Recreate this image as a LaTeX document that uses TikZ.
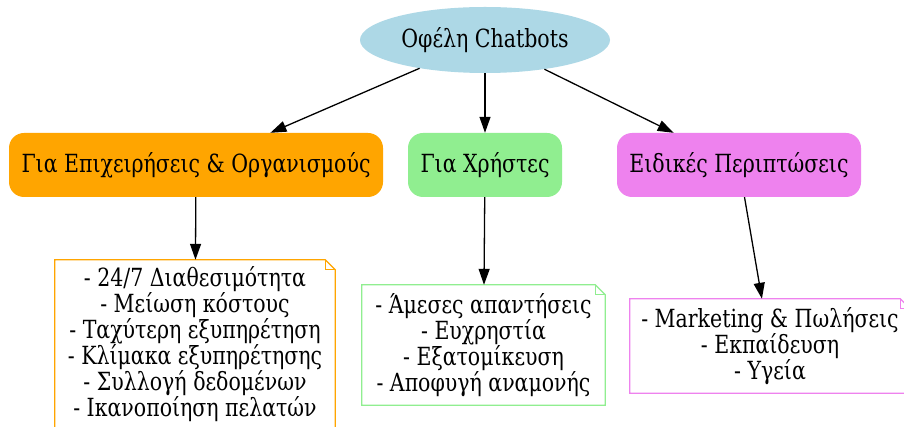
\documentclass[tikz,border=0pt]{standalone}
\usepackage{fontspec}
\setmainfont{DejaVu Serif}[FakeStretch=0.82]
\usetikzlibrary{shapes.geometric,arrows.meta}
\definecolor{cbblue}{RGB}{173,216,230}
\definecolor{cborange}{RGB}{255,165,0}
\definecolor{cbgreen}{RGB}{144,238,144}
\definecolor{cbviolet}{RGB}{238,130,238}
\tikzset{
  every node/.style={font=\fontsize{25}{26}\selectfont, text=black},
  topic/.style={rectangle, rounded corners=15pt, minimum height=64pt, inner sep=0pt},
  notebox/.style={rectangle, align=center, inner sep=0pt},
  link/.style={draw=black, line width=1.3pt, -{Triangle[length=16pt,width=11pt]}},
}
% folded-corner outline around a note node
\newcommand{\notepath}[2]{%
  \draw[#1, line width=1.2pt] (#2.north west) -- ([xshift=-10pt]#2.north east)
    -- ([yshift=-10pt]#2.north east) -- (#2.south east) -- (#2.south west) -- cycle;
  \draw[#1, line width=1.2pt] ([xshift=-10pt]#2.north east) |- ([yshift=-10pt]#2.north east);
}
\begin{document}
\begin{tikzpicture}[x=1pt, y=-1pt]
  \useasboundingbox (0,0) rectangle (904,427);
  \fill[white] (0,0) rectangle (904,427);

  % root
  \node[ellipse, fill=cbblue, minimum width=250pt, minimum height=66pt, inner sep=0pt] (root) at (485,40) {Οφέλη Chatbots};

  % categories
  \node[topic, fill=cborange, minimum width=374pt] (biz) at (196,165) {Για Επιχειρήσεις \& Οργανισμούς};
  \node[topic, fill=cbgreen, minimum width=154pt] (usr) at (485,165) {Για Χρήστες};
  \node[topic, fill=cbviolet, minimum width=244pt] (spec) at (739,165) {Ειδικές Περιπτώσεις};

  % detail notes
  \node[notebox, minimum width=280pt, minimum height=168pt] (nbiz) at (195,344) {- 24/7 Διαθεσιμότητα\\- Μείωση κόστους\\- Ταχύτερη εξυπηρέτηση\\- Κλίμακα εξυπηρέτησης\\- Συλλογή δεδομένων\\- Ικανοποίηση πελατών};
  \notepath{cborange}{nbiz}
  \node[notebox, minimum width=243pt, minimum height=120pt] (nusr) at (483.5,345) {- Άμεσες απαντήσεις\\- Ευχρηστία\\- Εξατομίκευση\\- Αποφυγή αναμονής};
  \notepath{cbgreen}{nusr}
  \node[notebox, minimum width=280pt, minimum height=94pt] (nspec) at (770,346) {- Marketing \& Πωλήσεις\\- Εκπαίδευση\\- Υγεία};
  \notepath{cbviolet}{nspec}

  % connectors
  \draw[link] (root) -- (biz);
  \draw[link] (root) -- (usr);
  \draw[link] (root) -- (spec);
  \draw[link] (biz) -- (nbiz);
  \draw[link] (usr) -- (nusr);
  \draw[link] (spec) -- (nspec);
\end{tikzpicture}
\end{document}
